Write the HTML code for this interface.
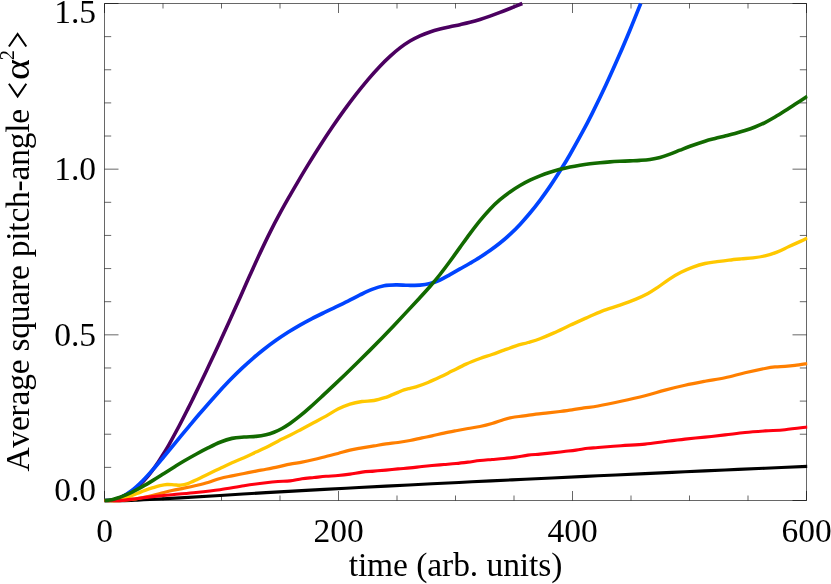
<!DOCTYPE html>
<html><head><meta charset="utf-8"><title>plot</title>
<style>
html,body{margin:0;padding:0;background:#fff;}
body{width:831px;height:584px;overflow:hidden;position:relative;}
svg{position:absolute;left:0;top:0;display:block;will-change:transform;}
text{font-family:"Liberation Serif",serif;fill:#000;font-kerning:none;}
</style></head><body>
<svg width="831" height="584" viewBox="0 0 831 584">
<rect x="0" y="0" width="831" height="584" fill="#ffffff"/>
<defs><clipPath id="pc"><rect x="101.50" y="-0.50" width="706.00" height="505.00"/></clipPath></defs>
<path d="M104.50 3.50H806.50V500.50H104.50ZM104.50 500.50v-9.50M104.50 3.50v9.50M163.00 500.50v-5.00M163.00 3.50v5.00M221.50 500.50v-5.00M221.50 3.50v5.00M280.00 500.50v-5.00M280.00 3.50v5.00M338.50 500.50v-9.50M338.50 3.50v9.50M397.00 500.50v-5.00M397.00 3.50v5.00M455.50 500.50v-5.00M455.50 3.50v5.00M514.00 500.50v-5.00M514.00 3.50v5.00M572.50 500.50v-9.50M572.50 3.50v9.50M631.00 500.50v-5.00M631.00 3.50v5.00M689.50 500.50v-5.00M689.50 3.50v5.00M748.00 500.50v-5.00M748.00 3.50v5.00M806.50 500.50v-9.50M806.50 3.50v9.50M104.50 500.50h14.00M806.50 500.50h-14.00M104.50 467.37h6.70M806.50 467.37h-6.70M104.50 434.23h6.70M806.50 434.23h-6.70M104.50 401.10h6.70M806.50 401.10h-6.70M104.50 367.97h6.70M806.50 367.97h-6.70M104.50 334.83h14.00M806.50 334.83h-14.00M104.50 301.70h6.70M806.50 301.70h-6.70M104.50 268.57h6.70M806.50 268.57h-6.70M104.50 235.43h6.70M806.50 235.43h-6.70M104.50 202.30h6.70M806.50 202.30h-6.70M104.50 169.17h14.00M806.50 169.17h-14.00M104.50 136.03h6.70M806.50 136.03h-6.70M104.50 102.90h6.70M806.50 102.90h-6.70M104.50 69.77h6.70M806.50 69.77h-6.70M104.50 36.63h6.70M806.50 36.63h-6.70M104.50 3.50h14.00M806.50 3.50h-14.00" fill="none" stroke="#000" stroke-width="0.6" stroke-linecap="butt"/>
<g fill="none" stroke-linejoin="round" stroke-linecap="butt" clip-path="url(#pc)">
<path d="M104.50 500.50C105.42 500.46 108.25 500.46 110.00 500.27C111.75 500.08 113.17 499.84 115.00 499.37C116.83 498.90 118.23 498.73 121.00 497.44C123.77 496.15 128.43 493.74 131.60 491.62C134.77 489.49 137.30 487.24 140.00 484.69C142.70 482.14 145.62 478.83 147.80 476.30C149.98 473.77 151.32 471.93 153.10 469.50C154.88 467.07 156.68 464.46 158.50 461.72C160.32 458.98 162.20 455.98 164.00 453.03C165.80 450.08 166.78 448.52 169.30 444.01C171.82 439.51 175.98 431.92 179.10 426.02C182.22 420.13 185.67 413.23 188.00 408.62C190.33 404.01 191.18 402.26 193.10 398.36C195.02 394.47 196.75 390.97 199.50 385.25C202.25 379.53 206.32 371.04 209.60 364.07C212.88 357.10 215.97 350.47 219.20 343.46C222.43 336.44 225.45 329.84 229.00 322.00C232.55 314.16 237.00 304.23 240.50 296.41C244.00 288.59 246.75 282.32 250.00 275.11C253.25 267.89 256.67 260.26 260.00 253.13C263.33 246.00 266.67 238.98 270.00 232.33C273.33 225.68 276.67 219.38 280.00 213.22C283.33 207.05 287.00 200.63 290.00 195.35C293.00 190.08 295.00 186.65 298.00 181.57C301.00 176.49 304.33 170.87 308.00 164.89C311.67 158.92 316.00 151.95 320.00 145.73C324.00 139.51 328.00 133.44 332.00 127.55C336.00 121.67 340.00 115.94 344.00 110.42C348.00 104.89 352.00 99.53 356.00 94.38C360.00 89.24 364.00 84.25 368.00 79.55C372.00 74.84 376.33 70.03 380.00 66.17C383.67 62.30 386.67 59.39 390.00 56.35C393.33 53.31 396.67 50.48 400.00 47.93C403.33 45.38 406.67 43.08 410.00 41.07C413.33 39.06 416.67 37.37 420.00 35.86C423.33 34.35 426.67 33.13 430.00 32.00C433.33 30.88 436.67 29.98 440.00 29.11C443.33 28.23 446.67 27.53 450.00 26.78C453.33 26.04 456.67 25.39 460.00 24.64C463.33 23.89 466.67 23.16 470.00 22.30C473.33 21.43 476.67 20.47 480.00 19.44C483.33 18.41 486.67 17.29 490.00 16.12C493.33 14.95 496.67 13.70 500.00 12.43C503.33 11.16 506.28 9.99 510.00 8.50C513.72 7.01 520.25 4.34 522.30 3.51" stroke="#4b0060" stroke-width="3.6"/>
<path d="M104.50 500.50C105.42 500.51 108.25 500.67 110.00 500.53C111.75 500.40 113.17 500.20 115.00 499.69C116.83 499.18 118.23 498.96 121.00 497.46C123.77 495.97 128.03 493.48 131.60 490.74C135.17 487.99 138.82 484.56 142.40 481.00C145.98 477.44 149.50 473.47 153.10 469.39C156.70 465.30 160.40 460.79 164.00 456.48C167.60 452.18 170.57 448.54 174.70 443.56C178.83 438.57 184.58 431.60 188.80 426.56C193.02 421.52 195.63 418.36 200.00 413.29C204.37 408.22 210.08 401.59 215.00 396.14C219.92 390.69 225.12 385.12 229.50 380.57C233.88 376.03 237.38 372.59 241.30 368.88C245.22 365.17 249.22 361.58 253.00 358.31C256.78 355.05 260.17 352.27 264.00 349.28C267.83 346.29 272.00 343.18 276.00 340.35C280.00 337.52 284.00 334.85 288.00 332.30C292.00 329.76 296.00 327.36 300.00 325.07C304.00 322.77 308.00 320.63 312.00 318.55C316.00 316.48 320.00 314.56 324.00 312.63C328.00 310.69 332.00 308.87 336.00 306.94C340.00 305.01 344.00 303.08 348.00 301.07C352.00 299.07 356.00 296.84 360.00 294.90C364.00 292.95 368.00 290.90 372.00 289.38C376.00 287.87 380.00 286.54 384.00 285.79C388.00 285.03 392.00 284.94 396.00 284.85C400.00 284.76 404.00 285.20 408.00 285.25C412.00 285.31 416.33 285.47 420.00 285.19C423.67 284.91 426.67 284.44 430.00 283.58C433.33 282.72 436.67 281.51 440.00 280.02C443.33 278.52 446.67 276.47 450.00 274.63C453.33 272.78 456.67 270.87 460.00 268.97C463.33 267.07 466.67 265.21 470.00 263.25C473.33 261.28 476.67 259.31 480.00 257.19C483.33 255.07 486.67 252.90 490.00 250.54C493.33 248.17 496.67 245.71 500.00 243.02C503.33 240.33 506.67 237.48 510.00 234.38C513.33 231.27 516.67 227.95 520.00 224.39C523.33 220.84 526.67 217.05 530.00 213.04C533.33 209.03 536.62 204.87 540.00 200.35C543.38 195.82 546.63 191.32 550.30 185.90C553.97 180.48 558.72 173.06 562.00 167.83C565.28 162.59 566.53 160.53 570.00 154.47C573.47 148.41 579.10 138.33 582.80 131.47C586.50 124.61 588.33 121.09 592.20 113.31C596.07 105.52 601.53 94.33 606.00 84.76C610.47 75.19 614.97 65.08 619.00 55.86C623.03 46.65 626.58 38.19 630.20 29.46C633.82 20.72 638.95 7.79 640.70 3.46" stroke="#0044ff" stroke-width="3.7"/>
<path d="M104.50 500.50C107.08 500.54 114.92 500.79 120.00 500.74C125.08 500.69 130.00 500.41 135.00 500.21C140.00 500.01 142.50 499.93 150.00 499.54C157.50 499.16 168.33 498.60 180.00 497.91C191.67 497.23 205.67 496.31 220.00 495.44C234.33 494.57 251.67 493.51 266.00 492.67C280.33 491.83 292.67 491.14 306.00 490.40C319.33 489.66 332.67 488.94 346.00 488.23C359.33 487.52 371.67 486.88 386.00 486.14C400.33 485.40 417.67 484.53 432.00 483.81C446.33 483.09 458.67 482.48 472.00 481.82C485.33 481.16 498.67 480.51 512.00 479.87C525.33 479.22 537.67 478.63 552.00 477.95C566.33 477.27 582.50 476.50 598.00 475.78C613.50 475.05 630.50 474.27 645.00 473.60C659.50 472.94 671.67 472.38 685.00 471.78C698.33 471.18 711.67 470.58 725.00 469.99C738.33 469.40 751.27 468.83 765.00 468.23C778.73 467.62 800.33 466.69 807.40 466.38" stroke="#000000" stroke-width="3.1"/>
<path d="M104.50 500.50C106.25 500.53 111.58 500.78 115.00 500.70C118.42 500.62 121.50 500.32 125.00 500.00C128.50 499.68 132.17 499.38 136.00 498.80C139.83 498.22 144.00 497.38 148.00 496.50C152.00 495.62 156.00 494.50 160.00 493.50C164.00 492.50 168.00 491.40 172.00 490.50C176.00 489.60 180.00 488.93 184.00 488.10C188.00 487.27 192.00 486.43 196.00 485.50C200.00 484.57 204.00 483.67 208.00 482.50C212.00 481.33 216.00 479.60 220.00 478.50C224.00 477.40 228.00 476.73 232.00 475.90C236.00 475.07 240.00 474.30 244.00 473.50C248.00 472.70 252.33 471.80 256.00 471.10C259.67 470.40 262.33 470.00 266.00 469.30C269.67 468.60 274.00 467.77 278.00 466.90C282.00 466.03 286.00 464.90 290.00 464.10C294.00 463.30 298.00 462.87 302.00 462.10C306.00 461.33 310.00 460.43 314.00 459.50C318.00 458.57 322.00 457.50 326.00 456.50C330.00 455.50 334.00 454.57 338.00 453.50C342.00 452.43 346.00 451.03 350.00 450.10C354.00 449.17 358.00 448.60 362.00 447.90C366.00 447.20 370.00 446.57 374.00 445.90C378.00 445.23 382.00 444.47 386.00 443.90C390.00 443.33 394.00 443.07 398.00 442.50C402.00 441.93 406.00 441.27 410.00 440.50C414.00 439.73 418.33 438.67 422.00 437.90C425.67 437.13 428.33 436.70 432.00 435.90C435.67 435.10 440.00 433.97 444.00 433.10C448.00 432.23 452.00 431.47 456.00 430.70C460.00 429.93 464.00 429.20 468.00 428.50C472.00 427.80 476.00 427.33 480.00 426.50C484.00 425.67 488.00 424.67 492.00 423.50C496.00 422.33 500.67 420.50 504.00 419.50C507.33 418.50 508.67 418.10 512.00 417.50C515.33 416.90 520.00 416.47 524.00 415.90C528.00 415.33 532.00 414.60 536.00 414.10C540.00 413.60 544.00 413.33 548.00 412.90C552.00 412.47 556.00 412.00 560.00 411.50C564.00 411.00 568.00 410.50 572.00 409.90C576.00 409.30 579.67 408.55 584.00 407.90C588.33 407.25 591.83 407.09 598.00 405.99C604.17 404.89 613.17 403.02 621.00 401.30C628.83 399.58 637.67 397.57 645.00 395.70C652.33 393.83 658.33 391.83 665.00 390.10C671.67 388.37 678.33 386.77 685.00 385.30C691.67 383.83 698.33 382.57 705.00 381.30C711.67 380.03 718.33 379.12 725.00 377.70C731.67 376.28 738.33 374.32 745.00 372.79C751.67 371.25 760.00 369.48 765.00 368.50C770.00 367.52 771.67 367.25 775.00 366.90C778.33 366.55 781.67 366.65 785.00 366.40C788.33 366.15 791.27 365.88 795.00 365.40C798.73 364.92 805.33 363.82 807.40 363.50" stroke="#ff7f00" stroke-width="3.2"/>
<path d="M104.50 500.50C106.08 500.50 110.75 500.87 114.00 500.50C117.25 500.13 120.17 499.47 124.00 498.30C127.83 497.13 133.50 494.82 137.00 493.50C140.50 492.18 142.33 491.37 145.00 490.40C147.67 489.43 150.50 488.48 153.00 487.70C155.50 486.92 157.67 486.23 160.00 485.70C162.33 485.17 164.67 484.65 167.00 484.50C169.33 484.35 171.75 484.68 174.00 484.80C176.25 484.92 178.17 485.40 180.50 485.20C182.83 485.00 185.13 484.60 188.00 483.60C190.87 482.60 194.47 480.73 197.70 479.20C200.93 477.67 203.68 476.20 207.40 474.40C211.12 472.60 215.90 470.33 220.00 468.40C224.10 466.47 228.00 464.58 232.00 462.80C236.00 461.02 240.00 459.49 244.00 457.70C248.00 455.91 252.33 453.78 256.00 452.06C259.67 450.35 262.33 449.22 266.00 447.40C269.67 445.58 274.00 443.17 278.00 441.15C282.00 439.13 286.00 437.34 290.00 435.30C294.00 433.26 298.00 431.03 302.00 428.90C306.00 426.77 310.00 424.63 314.00 422.50C318.00 420.37 322.00 418.33 326.00 416.10C330.00 413.87 334.00 411.10 338.00 409.10C342.00 407.10 346.00 405.37 350.00 404.10C354.00 402.83 358.00 402.10 362.00 401.50C366.00 400.90 370.00 401.20 374.00 400.50C378.00 399.80 383.00 398.23 386.00 397.30C389.00 396.37 390.00 395.72 392.00 394.90C394.00 394.08 396.00 393.23 398.00 392.40C400.00 391.57 402.00 390.58 404.00 389.90C406.00 389.22 408.00 388.80 410.00 388.30C412.00 387.80 413.00 387.87 416.00 386.90C419.00 385.93 424.00 384.13 428.00 382.50C432.00 380.87 436.00 379.00 440.00 377.10C444.00 375.20 447.67 373.27 452.00 371.10C456.33 368.93 461.33 366.20 466.00 364.10C470.67 362.00 475.67 360.10 480.00 358.50C484.33 356.90 488.00 355.90 492.00 354.50C496.00 353.10 500.00 351.53 504.00 350.10C508.00 348.67 512.00 347.17 516.00 345.90C520.00 344.63 524.00 343.70 528.00 342.50C532.00 341.30 535.67 340.30 540.00 338.70C544.33 337.10 549.00 335.13 554.00 332.90C559.00 330.67 564.67 327.77 570.00 325.30C575.33 322.83 580.67 320.47 586.00 318.10C591.33 315.73 596.33 313.27 602.00 311.10C607.67 308.93 614.33 307.10 620.00 305.10C625.67 303.10 631.33 301.03 636.00 299.10C640.67 297.17 644.50 295.37 648.00 293.50C651.50 291.63 653.50 290.27 657.00 287.90C660.50 285.53 665.00 281.90 669.00 279.30C673.00 276.70 677.00 274.33 681.00 272.30C685.00 270.27 689.00 268.57 693.00 267.10C697.00 265.63 701.00 264.40 705.00 263.50C709.00 262.60 713.00 262.27 717.00 261.70C721.00 261.13 725.00 260.57 729.00 260.10C733.00 259.63 737.00 259.27 741.00 258.90C745.00 258.53 749.00 258.40 753.00 257.90C757.00 257.40 761.00 256.87 765.00 255.90C769.00 254.93 773.00 253.67 777.00 252.10C781.00 250.53 785.00 248.33 789.00 246.50C793.00 244.67 797.93 242.52 801.00 241.10C804.07 239.68 806.33 238.52 807.40 238.00" stroke="#ffc800" stroke-width="3.35"/>
<path d="M104.50 500.50C106.25 500.53 111.58 500.77 115.00 500.70C118.42 500.63 121.50 500.43 125.00 500.10C128.50 499.77 132.17 499.20 136.00 498.70C139.83 498.20 142.00 497.77 148.00 497.10C154.00 496.43 164.00 495.47 172.00 494.70C180.00 493.93 188.00 493.33 196.00 492.50C204.00 491.67 212.00 490.83 220.00 489.70C228.00 488.57 236.33 486.87 244.00 485.70C251.67 484.53 260.33 483.40 266.00 482.70C271.67 482.00 274.00 481.80 278.00 481.50C282.00 481.20 286.00 481.37 290.00 480.90C294.00 480.43 298.00 479.27 302.00 478.70C306.00 478.13 310.00 477.90 314.00 477.50C318.00 477.10 322.00 476.63 326.00 476.30C330.00 475.97 334.00 475.87 338.00 475.50C342.00 475.13 346.00 474.67 350.00 474.10C354.00 473.53 358.00 472.60 362.00 472.10C366.00 471.60 370.00 471.43 374.00 471.10C378.00 470.77 382.00 470.47 386.00 470.10C390.00 469.73 394.00 469.27 398.00 468.90C402.00 468.53 406.00 468.30 410.00 467.90C414.00 467.50 418.33 466.90 422.00 466.50C425.67 466.10 428.33 465.83 432.00 465.50C435.67 465.17 440.00 464.83 444.00 464.50C448.00 464.17 452.00 463.90 456.00 463.50C460.00 463.10 464.00 462.60 468.00 462.10C472.00 461.60 476.00 460.93 480.00 460.50C484.00 460.07 488.00 459.83 492.00 459.50C496.00 459.17 500.00 458.90 504.00 458.50C508.00 458.10 512.00 457.67 516.00 457.10C520.00 456.53 524.00 455.60 528.00 455.10C532.00 454.60 536.00 454.47 540.00 454.10C544.00 453.73 548.00 453.33 552.00 452.90C556.00 452.47 560.00 451.97 564.00 451.50C568.00 451.03 572.00 450.63 576.00 450.10C580.00 449.57 584.33 448.73 588.00 448.30C591.67 447.87 592.50 447.93 598.00 447.50C603.50 447.07 613.17 446.27 621.00 445.70C628.83 445.13 637.67 444.80 645.00 444.10C652.33 443.40 658.33 442.33 665.00 441.50C671.67 440.67 678.33 439.83 685.00 439.10C691.67 438.37 698.33 437.80 705.00 437.10C711.67 436.40 718.33 435.67 725.00 434.90C731.67 434.13 738.33 433.17 745.00 432.50C751.67 431.83 758.33 431.37 765.00 430.90C771.67 430.43 777.93 430.35 785.00 429.70C792.07 429.05 803.67 427.45 807.40 427.00" stroke="#ff0010" stroke-width="3.1"/>
<path d="M104.50 500.50C105.42 500.43 108.25 500.35 110.00 500.07C111.75 499.78 113.17 499.33 115.00 498.79C116.83 498.25 118.23 497.90 121.00 496.82C123.77 495.74 128.03 494.01 131.60 492.32C135.17 490.62 138.83 488.65 142.40 486.67C145.97 484.68 149.40 482.60 153.00 480.41C156.60 478.21 160.38 475.78 164.00 473.50C167.62 471.22 171.37 468.80 174.70 466.72C178.03 464.64 180.45 463.11 184.00 461.03C187.55 458.94 192.00 456.40 196.00 454.22C200.00 452.04 204.00 449.93 208.00 447.94C212.00 445.94 216.00 443.86 220.00 442.27C224.00 440.67 228.00 439.25 232.00 438.37C236.00 437.50 240.00 437.35 244.00 437.02C248.00 436.69 252.33 436.76 256.00 436.39C259.67 436.02 263.00 435.48 266.00 434.80C269.00 434.12 271.33 433.35 274.00 432.30C276.67 431.24 279.33 429.95 282.00 428.48C284.67 427.01 287.00 425.58 290.00 423.50C293.00 421.41 296.67 418.65 300.00 415.97C303.33 413.28 306.33 410.67 310.00 407.40C313.67 404.13 318.00 400.09 322.00 396.37C326.00 392.66 330.00 388.89 334.00 385.11C338.00 381.33 342.00 377.53 346.00 373.69C350.00 369.84 354.00 365.97 358.00 362.05C362.00 358.12 366.00 354.16 370.00 350.14C374.00 346.11 378.00 342.03 382.00 337.90C386.00 333.78 390.00 329.60 394.00 325.39C398.00 321.18 402.00 316.92 406.00 312.64C410.00 308.36 414.00 304.07 418.00 299.71C422.00 295.34 426.33 290.65 430.00 286.45C433.67 282.25 436.67 278.70 440.00 274.50C443.33 270.31 446.67 265.81 450.00 261.29C453.33 256.77 456.67 252.01 460.00 247.39C463.33 242.78 466.67 238.07 470.00 233.60C473.33 229.14 476.67 224.71 480.00 220.63C483.33 216.56 486.67 212.65 490.00 209.16C493.33 205.67 496.67 202.56 500.00 199.69C503.33 196.82 506.67 194.30 510.00 191.94C513.33 189.58 516.67 187.47 520.00 185.51C523.33 183.55 526.67 181.81 530.00 180.19C533.33 178.58 536.67 177.15 540.00 175.83C543.33 174.51 546.67 173.35 550.00 172.27C553.33 171.19 556.67 170.23 560.00 169.36C563.33 168.49 566.67 167.72 570.00 167.02C573.33 166.32 576.67 165.72 580.00 165.17C583.33 164.63 586.67 164.17 590.00 163.75C593.33 163.34 596.67 162.99 600.00 162.68C603.33 162.37 606.67 162.12 610.00 161.89C613.33 161.66 616.67 161.48 620.00 161.30C623.33 161.13 626.67 161.00 630.00 160.85C633.33 160.70 636.67 160.62 640.00 160.38C643.33 160.14 646.67 159.92 650.00 159.43C653.33 158.94 656.67 158.34 660.00 157.46C663.33 156.58 666.67 155.38 670.00 154.16C673.33 152.95 676.67 151.50 680.00 150.19C683.33 148.88 685.83 147.80 690.00 146.30C694.17 144.81 700.83 142.53 705.00 141.23C709.17 139.94 711.67 139.39 715.00 138.53C718.33 137.67 721.67 136.91 725.00 136.08C728.33 135.24 731.67 134.43 735.00 133.51C738.33 132.59 741.67 131.65 745.00 130.57C748.33 129.48 751.67 128.33 755.00 126.99C758.33 125.65 761.67 124.19 765.00 122.54C768.33 120.88 771.67 119.01 775.00 117.06C778.33 115.11 781.67 112.98 785.00 110.85C788.33 108.72 791.27 106.72 795.00 104.28C798.73 101.84 805.33 97.56 807.40 96.22" stroke="#126a00" stroke-width="3.6"/>
</g>
<text x="104.50" y="542.20" font-size="33.5" text-anchor="middle">0</text>
<text x="338.50" y="542.20" font-size="33.5" text-anchor="middle">200</text>
<text x="572.50" y="542.20" font-size="33.5" text-anchor="middle">400</text>
<text x="806.50" y="542.20" font-size="33.5" text-anchor="middle">600</text>
<text x="96.00" y="501.20" font-size="33.5" text-anchor="end">0.0</text>
<text x="96.00" y="345.83" font-size="33.5" text-anchor="end">0.5</text>
<text x="96.00" y="180.17" font-size="33.5" text-anchor="end">1.0</text>
<text x="96.00" y="22.70" font-size="33.5" text-anchor="end">1.5</text>
<text x="455.50" y="576.20" font-size="33.5" text-anchor="middle" letter-spacing="-0.07">time (arb. units)</text>
<text transform="translate(28.80 471.60) rotate(-90)" font-size="33.5" letter-spacing="-0.22">Average square pitch-angle</text>
<path d="M8.90 83.80L17.60 96.40L26.30 83.80" fill="none" stroke="#000" stroke-width="2.0" stroke-linejoin="miter" stroke-linecap="butt"/>
<text transform="translate(28.80 79.90) rotate(-90) scale(1.1 1)" font-size="36.3">α</text>
<text transform="translate(13.70 60.30) rotate(-90)" font-size="20.5">2</text>
<path d="M8.90 46.50L17.60 33.90L26.30 46.50" fill="none" stroke="#000" stroke-width="2.0" stroke-linejoin="miter" stroke-linecap="butt"/>
</svg>
</body></html>
